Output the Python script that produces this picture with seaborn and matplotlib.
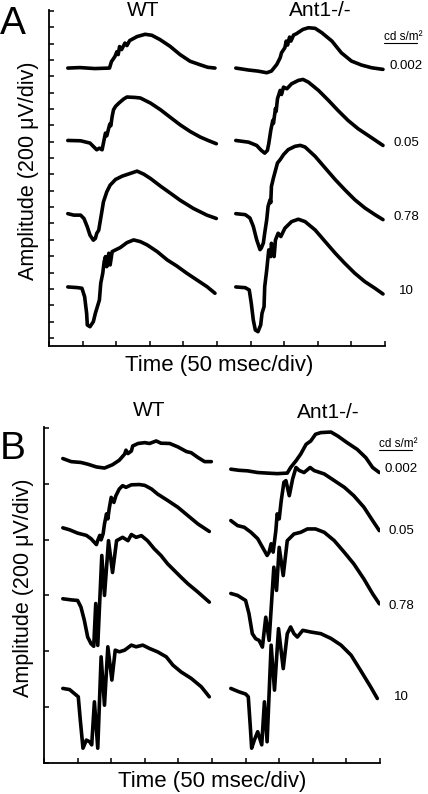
import numpy as np
import pandas as pd
import matplotlib
matplotlib.use("Agg")
import matplotlib.pyplot as plt
from matplotlib.lines import Line2D
import seaborn as sns

# ---------------- data (time in ms from trace start, amplitude in microvolts) ----------------
intensities = ["0.002", "0.05", "0.78", "10"]
genotypes = ["WT", "Ant1-/-"]

# Panel A
A_WT_0002_t = [0, 18, 40, 62, 65, 70, 73, 75, 77, 80, 85, 88, 92, 103, 115, 125, 137, 152, 167, 182, 196, 208, 219]
A_WT_0002_uv = [0, 6, -6, 0, 80, 140, 200, 165, 263, 226, 306, 275, 336, 385, 413, 401, 349, 267, 165, 83, 43, 10, 0]
A_WT_005_t = [0, 19, 33, 43, 47, 51, 53, 56, 58, 61, 62.5, 64, 66, 68, 71, 76, 83, 88, 100, 108, 123, 138, 152, 167, 182, 197, 210, 221]
A_WT_005_uv = [0, -4, -32, -114, -94, -114, -32, 90, 57, 155, 200, 180, 294, 375, 416, 457, 506, 531, 526, 519, 457, 375, 286, 192, 110, 42, -4, -40]
A_WT_078_t = [0, 9, 19, 24, 29, 33, 38, 41, 43, 46, 48, 51, 53, 58, 63, 71, 81, 93, 103, 113, 123, 138, 152, 167, 187, 207, 221]
A_WT_078_uv = [0, -18, -18, -59, -161, -263, -324, -303, -242, -202, -104, 43, 144, 267, 349, 418, 459, 492, 520, 483, 430, 336, 254, 165, 63, -18, -59]
A_WT_10_t = [0, 14, 21, 25, 28, 29, 33, 38, 41, 44, 47, 49, 52, 54, 56, 58, 61, 63, 66, 71, 78, 88, 98, 108, 118, 133, 148, 162, 177, 192, 207, 219]
A_WT_10_uv = [0, -8, -16, -119, -322, -465, -486, -424, -322, -241, -159, 45, 168, 306, 371, 248, 412, 269, 432, 453, 481, 542, 575, 554, 514, 432, 330, 257, 168, 86, 4, -77]

A_AN_0002_t = [0, 19, 33, 46, 53, 61, 66, 68, 73, 75, 77, 80, 82, 86, 90, 96, 100, 108, 118, 128, 143, 157, 172, 187, 202, 219]
A_AN_0002_uv = [0, -24, -37, -57, -37, 45, 126, 187, 249, 330, 281, 379, 330, 404, 419, 452, 473, 493, 486, 432, 330, 187, 86, 37, 4, -16]
A_AN_005_t = [0, 19, 31, 38, 43, 47, 49, 52, 55, 56, 59, 60, 62, 66, 68, 71, 76, 83, 93, 100, 108, 123, 138, 152, 167, 182, 197, 219]
A_AN_005_uv = [0, -21, -61, -122, -155, -122, -40, 122, 245, 208, 391, 355, 510, 612, 562, 652, 632, 693, 734, 746, 713, 612, 489, 367, 245, 143, 61, -61]
A_AN_078_t = [0, 14, 21, 26, 31, 36, 38, 41, 43, 46, 48, 51, 52, 53, 56, 58, 62, 66, 71, 78, 88, 96, 103, 118, 133, 148, 162, 177, 192, 207, 219]
A_AN_078_uv = [0, -12, -53, -155, -318, -440, -419, -358, -236, -73, 89, 171, 135, 334, 437, 498, 620, 660, 722, 783, 823, 835, 815, 701, 558, 416, 294, 171, 70, -12, -73]
A_AN_10_t = [0, 14, 20, 23, 26, 29, 33, 37, 39, 42, 43, 46, 49, 52, 53, 57, 59, 63, 67, 73, 83, 93, 103, 118, 133, 148, 162, 177, 192, 207, 219]
A_AN_10_uv = [0, -9, -37, -199, -404, -526, -547, -465, -322, -241, 4, 208, 453, 371, 534, 371, 575, 657, 616, 718, 799, 828, 799, 697, 554, 412, 290, 168, 65, -16, -86]

# Panel B
B_WT_0002_t = [0, 12.5, 27, 37, 50, 62, 74, 84, 92, 94, 97, 102, 104, 112, 122, 129, 139, 146, 159, 171, 184, 191, 201, 211, 221]
B_WT_0002_uv = [0, -11, -14, -20, -30, -34, -22, -6, 16, 30, 18, 27, 45, 54, 57, 54, 63, 55, 54, 42, 25, 21, 4, -11, -11]
B_WT_005_t = [0, 10, 22, 35, 42, 50, 52, 55, 57, 60, 62, 65, 67, 69, 72, 76, 79, 84, 89, 94, 102, 114, 122, 132, 141, 156, 171, 186, 201, 218]
B_WT_005_uv = [0, -7, -19, -27, -39, -60, -45, -27, -43, -21, 14, 50, 32, 68, 109, 91, 115, 139, 151, 145, 154, 155, 152, 139, 121, 98, 74, 44, 14, -13]
B_WT_078_t = [0, 12.5, 22, 27, 32, 37, 42, 46, 49, 52, 58, 62, 68, 74, 80, 89, 97, 102, 109, 117, 126, 136, 146, 156, 166, 176, 186, 201, 218]
B_WT_078_uv = [0, -4, -6, -30, -77, -137, -161, -170, -17, -167, 155, 12, 208, 94, 208, 220, 208, 230, 220, 226, 208, 179, 155, 125, 101, 77, 54, 24, -12]
B_WT_10_t = [0, 10, 20, 23, 26, 30, 35, 40, 43, 47, 52, 57, 62, 67, 73, 78, 84, 92, 102, 109, 119, 129, 141, 154, 164, 176, 191, 206, 218]
B_WT_10_uv = [0, -4, -24, -30, -113, -214, -185, -191, -202, -48, -214, 113, -60, 149, 30, 137, 131, 137, 155, 149, 155, 143, 131, 113, 83, 59, 36, 6, -30]

B_AN_0002_t = [0, 12, 25, 40, 54, 69, 84, 89, 97, 104, 112, 119, 126, 134, 149, 159, 173, 188, 201, 211, 221]
B_AN_0002_uv = [0, -4, -6, -12, -14, -16, -14, 6, 30, 54, 89, 101, 125, 131, 133, 119, 95, 71, 41, 6, -12]
B_AN_005_t = [0, 10, 20, 30, 40, 47, 54, 57, 60, 63, 67, 69, 72, 75, 79, 82, 87, 92, 97, 102, 109, 118, 124, 139, 154, 169, 183, 198, 211, 221]
B_AN_005_uv = [0, -18, -24, -42, -65, -95, -125, -113, -83, -113, -36, 24, 6, 71, 137, 143, 89, 149, 190, 179, 172, 190, 179, 167, 143, 119, 89, 48, 0, -36]
B_AN_078_t = [0, 10, 22, 27, 32, 37, 42, 47, 52, 57, 64, 68, 72, 78, 84, 94, 104, 114, 126, 139, 154, 169, 183, 198, 211, 221]
B_AN_078_uv = [0, -7, -25, -72, -144, -162, -168, -192, -85, -168, 94, 11, 165, 64, 189, 213, 219, 231, 231, 219, 189, 147, 106, 52, -1, -37]
B_AN_10_t = [0, 12, 22, 26, 29, 31, 35, 40, 46, 50, 54, 60, 65, 71, 78, 84, 89, 94, 99, 107, 119, 134, 149, 164, 179, 193, 208, 218]
B_AN_10_uv = [0, -12, -20, -30, -137, -214, -185, -155, -202, -48, -191, 155, -6, 214, 71, 196, 220, 196, 184, 208, 202, 196, 179, 155, 119, 65, 6, -36]

panel_A = {
    ("WT", "0.002"): (A_WT_0002_t, A_WT_0002_uv), ("WT", "0.05"): (A_WT_005_t, A_WT_005_uv),
    ("WT", "0.78"): (A_WT_078_t, A_WT_078_uv), ("WT", "10"): (A_WT_10_t, A_WT_10_uv),
    ("Ant1-/-", "0.002"): (A_AN_0002_t, A_AN_0002_uv), ("Ant1-/-", "0.05"): (A_AN_005_t, A_AN_005_uv),
    ("Ant1-/-", "0.78"): (A_AN_078_t, A_AN_078_uv), ("Ant1-/-", "10"): (A_AN_10_t, A_AN_10_uv),
}
panel_B = {
    ("WT", "0.002"): (B_WT_0002_t, B_WT_0002_uv), ("WT", "0.05"): (B_WT_005_t, B_WT_005_uv),
    ("WT", "0.78"): (B_WT_078_t, B_WT_078_uv), ("WT", "10"): (B_WT_10_t, B_WT_10_uv),
    ("Ant1-/-", "0.002"): (B_AN_0002_t, B_AN_0002_uv), ("Ant1-/-", "0.05"): (B_AN_005_t, B_AN_005_uv),
    ("Ant1-/-", "0.78"): (B_AN_078_t, B_AN_078_uv), ("Ant1-/-", "10"): (B_AN_10_t, B_AN_10_uv),
}

# ---------------- layout (stacking offsets) ----------------
start_ms = {"WT": 28, "Ant1-/-": 278}
offs_A = {g: dict(zip(intensities, [3300, 2415, 1520, 624])) for g in genotypes}
offs_B = {"WT": dict(zip(intensities, [1090, 842, 588, 267])),
          "Ant1-/-": dict(zip(intensities, [1052, 868, 607, 267]))}


def build(traces, offs):
    frames = []
    for (g, inten), (t, uv) in traces.items():
        frames.append(pd.DataFrame({
            "time": np.asarray(t, float) + start_ms[g],
            "amp": np.asarray(uv, float) + offs[g][inten],
            "trace": f"{g} {inten}",
        }))
    return pd.concat(frames, ignore_index=True)


dfA = build(panel_A, offs_A)
dfB = build(panel_B, offs_B)

sns.set_theme(style="white")
plt.rcParams["font.family"] = ["Liberation Sans", "DejaVu Sans"]

W, H = 428, 794
fig = plt.figure(figsize=(W / 100, H / 100), dpi=100)
fig.patch.set_facecolor("white")


def add_ax(left, top, right, bottom):
    return fig.add_axes([left / W, 1 - bottom / H, (right - left) / W, (bottom - top) / H])


axA = add_ax(49, 10, 385, 346)
axB = add_ax(44, 427, 380, 763)

for ax, df, ylim, yticks in [
    (axA, dfA, (-98, 4010), np.arange(0, 4001, 200)),
    (axB, dfB, (0, 1203), np.arange(0, 1201, 200)),
]:
    sns.lineplot(data=df, x="time", y="amp", units="trace", estimator=None, sort=False,
                 color="black", linewidth=2.6, ax=ax, legend=False,
                 solid_joinstyle="round", solid_capstyle="round")
    ax.set_xlim(0, 500)
    ax.set_ylim(*ylim)
    ax.set_xticks(np.arange(0, 501, 50))
    ax.set_yticks(yticks)
    ax.tick_params(direction="in", length=3.5, width=1.1, color="black",
                   bottom=True, left=True, labelbottom=False, labelleft=False)
    sns.despine(ax=ax)
    for s in ("left", "bottom"):
        ax.spines[s].set_color("black")
        ax.spines[s].set_linewidth(1.3)
    ax.set_xlabel("")
    ax.set_ylabel("")
    ax.set_facecolor("white")
    ax.patch.set_alpha(0)


def ftext(px, py, s, size, **kw):
    fig.text(px / W, 1 - py / H, s, fontsize=size, ha=kw.pop("ha", "center"),
             va=kw.pop("va", "center"), color="black", **kw)


# panel letters and headings
ftext(13, 24, "A", 28)
ftext(13, 449, "B", 28)
ftext(143, 11, "WT", 15)
ftext(320, 10, "Ant1-/-", 15)
ftext(149, 411, "WT", 15)
ftext(328, 412, "Ant1-/-", 15)

# axis titles
ftext(29, 171, "Amplitude (200 μV/div)", 15.5, rotation=90)
ftext(24, 588, "Amplitude (200 μV/div)", 15.5, rotation=90)
ftext(219, 365, "Time (50 msec/div)", 16)
ftext(212, 781, "Time (50 msec/div)", 16)

# intensity labels
ftext(403, 37, "cd s/m²", 8.5)
fig.add_artist(Line2D([384 / W, 417 / W], [1 - 42.5 / H, 1 - 42.5 / H], color="black", lw=0.8))
for lab, (px, py) in zip(intensities, [(406, 66), (406, 142.5), (406, 217.5), (406, 291)]):
    ftext(px, py, lab, 9.5)
ftext(398, 444, "cd s/m²", 8.5)
fig.add_artist(Line2D([379 / W, 412 / W], [1 - 450 / H, 1 - 450 / H], color="black", lw=0.8))
for lab, (px, py) in zip(intensities, [(401, 469), (401, 531), (401, 606), (401, 697)]):
    ftext(px, py, lab, 9.5)

fig.savefig("out.png", dpi=100, facecolor="white")
